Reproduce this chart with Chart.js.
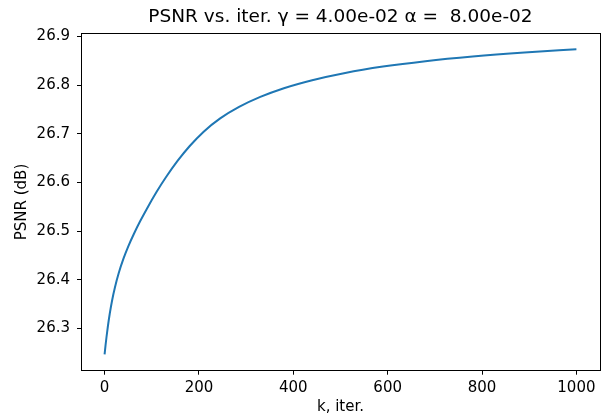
<!DOCTYPE html>
<html>
<head>
<meta charset="utf-8">
<script src="https://cdn.jsdelivr.net/npm/chart.js@4"></script>
<style>
html,body{margin:0;padding:0;background:#fff;}
canvas{display:block;}
</style>
</head>
<body>
<canvas id="c" width="613" height="418"></canvas>
<script>
const iterations = [0, 2, 4, 7, 11, 16, 22, 30, 40, 50, 62, 75, 90, 110, 130, 155, 180, 210, 245, 285, 330, 380, 440, 510, 590, 680, 780, 890, 1000];
const psnrValues = [26.247, 26.2654, 26.2822, 26.3048, 26.331, 26.3583, 26.385, 26.4142, 26.4437, 26.4685, 26.4943, 26.5198, 26.5468, 26.5804, 26.6108, 26.6448, 26.6745, 26.7045, 26.7317, 26.7553, 26.7758, 26.7937, 26.8102, 26.8251, 26.8381, 26.8493, 26.8589, 26.8671, 26.8736];
const xTicks = [0, 200, 400, 600, 800, 1000];
const yTicks = [26.3, 26.4, 26.5, 26.6, 26.7, 26.8, 26.9];
const titleText = 'PSNR vs. iter. \u03B3 = 4.00e-02 \u03B1 =  8.00e-02';
const xLabel = 'k, iter.';
const yLabel = 'PSNR (dB)';

const FONT = 'DejaVu Sans';
Chart.defaults.font.family = FONT;
Chart.defaults.color = '#000';

const frame = {
  id: 'frame',
  afterLayout(chart) {
    const t = chart.titleBlock, a = chart.chartArea;
    if (t && a) { t.left = a.left; t.right = a.right; t.width = a.right - a.left; }
  },
  afterDraw(chart) {
    const a = chart.chartArea, ctx = chart.ctx;
    ctx.save();
    ctx.strokeStyle = '#000';
    ctx.lineWidth = 1;
    ctx.strokeRect(Math.round(a.left) + 0.5, Math.round(a.top) + 0.5, Math.round(a.right - a.left), Math.round(a.bottom - a.top));
    ctx.restore();
  }
};

new Chart(document.getElementById('c'), {
  type: 'line',
  data: {
    datasets: [{
      data: iterations.map((k, i) => ({x: k, y: psnrValues[i]})),
      borderColor: '#1f77b4',
      borderWidth: 2,
      pointRadius: 0,
      fill: false,
      cubicInterpolationMode: 'monotone'
    }]
  },
  options: {
    responsive: false,
    animation: false,
    devicePixelRatio: 1,
    layout: {padding: {left: 0, right: 13, top: 0, bottom: 0}},
    plugins: {
      legend: {display: false},
      tooltip: {enabled: false},
      title: {
        display: true,
        text: titleText,
        font: {size: 18.5, weight: 'normal', family: FONT},
        color: '#000',
        padding: {top: 5.9, bottom: 5.2}
      }
    },
    scales: {
      x: {
        type: 'linear',
        min: -50, max: 1050,
        afterBuildTicks(axis) { axis.ticks = xTicks.map(v => ({value: v})); },
        afterFit(axis) { axis.height = 47.3; },
        grid: {drawOnChartArea: false, drawTicks: true, tickLength: 4, tickColor: '#000', tickWidth: 1},
        border: {display: true, color: '#000', width: 1},
        ticks: {font: {size: 15}, color: '#000', padding: 4, maxRotation: 0, autoSkip: false, callback: v => String(v)},
        title: {display: true, text: xLabel, font: {size: 15}, color: '#000', padding: {top: 0, bottom: 2}}
      },
      y: {
        type: 'linear',
        min: 26.2135, max: 26.9065,
        afterBuildTicks(axis) { axis.ticks = yTicks.map(v => ({value: v})); },
        afterFit(axis) { axis.width = 81; },
        grid: {drawOnChartArea: false, drawTicks: true, tickLength: 4, tickColor: '#000', tickWidth: 1},
        border: {display: true, color: '#000', width: 1},
        ticks: {font: {size: 15}, color: '#000', padding: 7, autoSkip: false, callback: v => v.toFixed(1)},
        title: {display: true, text: yLabel, font: {size: 15}, color: '#000', padding: {top: 13, bottom: 0}}
      }
    }
  },
  plugins: [frame]
});
</script>
</body>
</html>
